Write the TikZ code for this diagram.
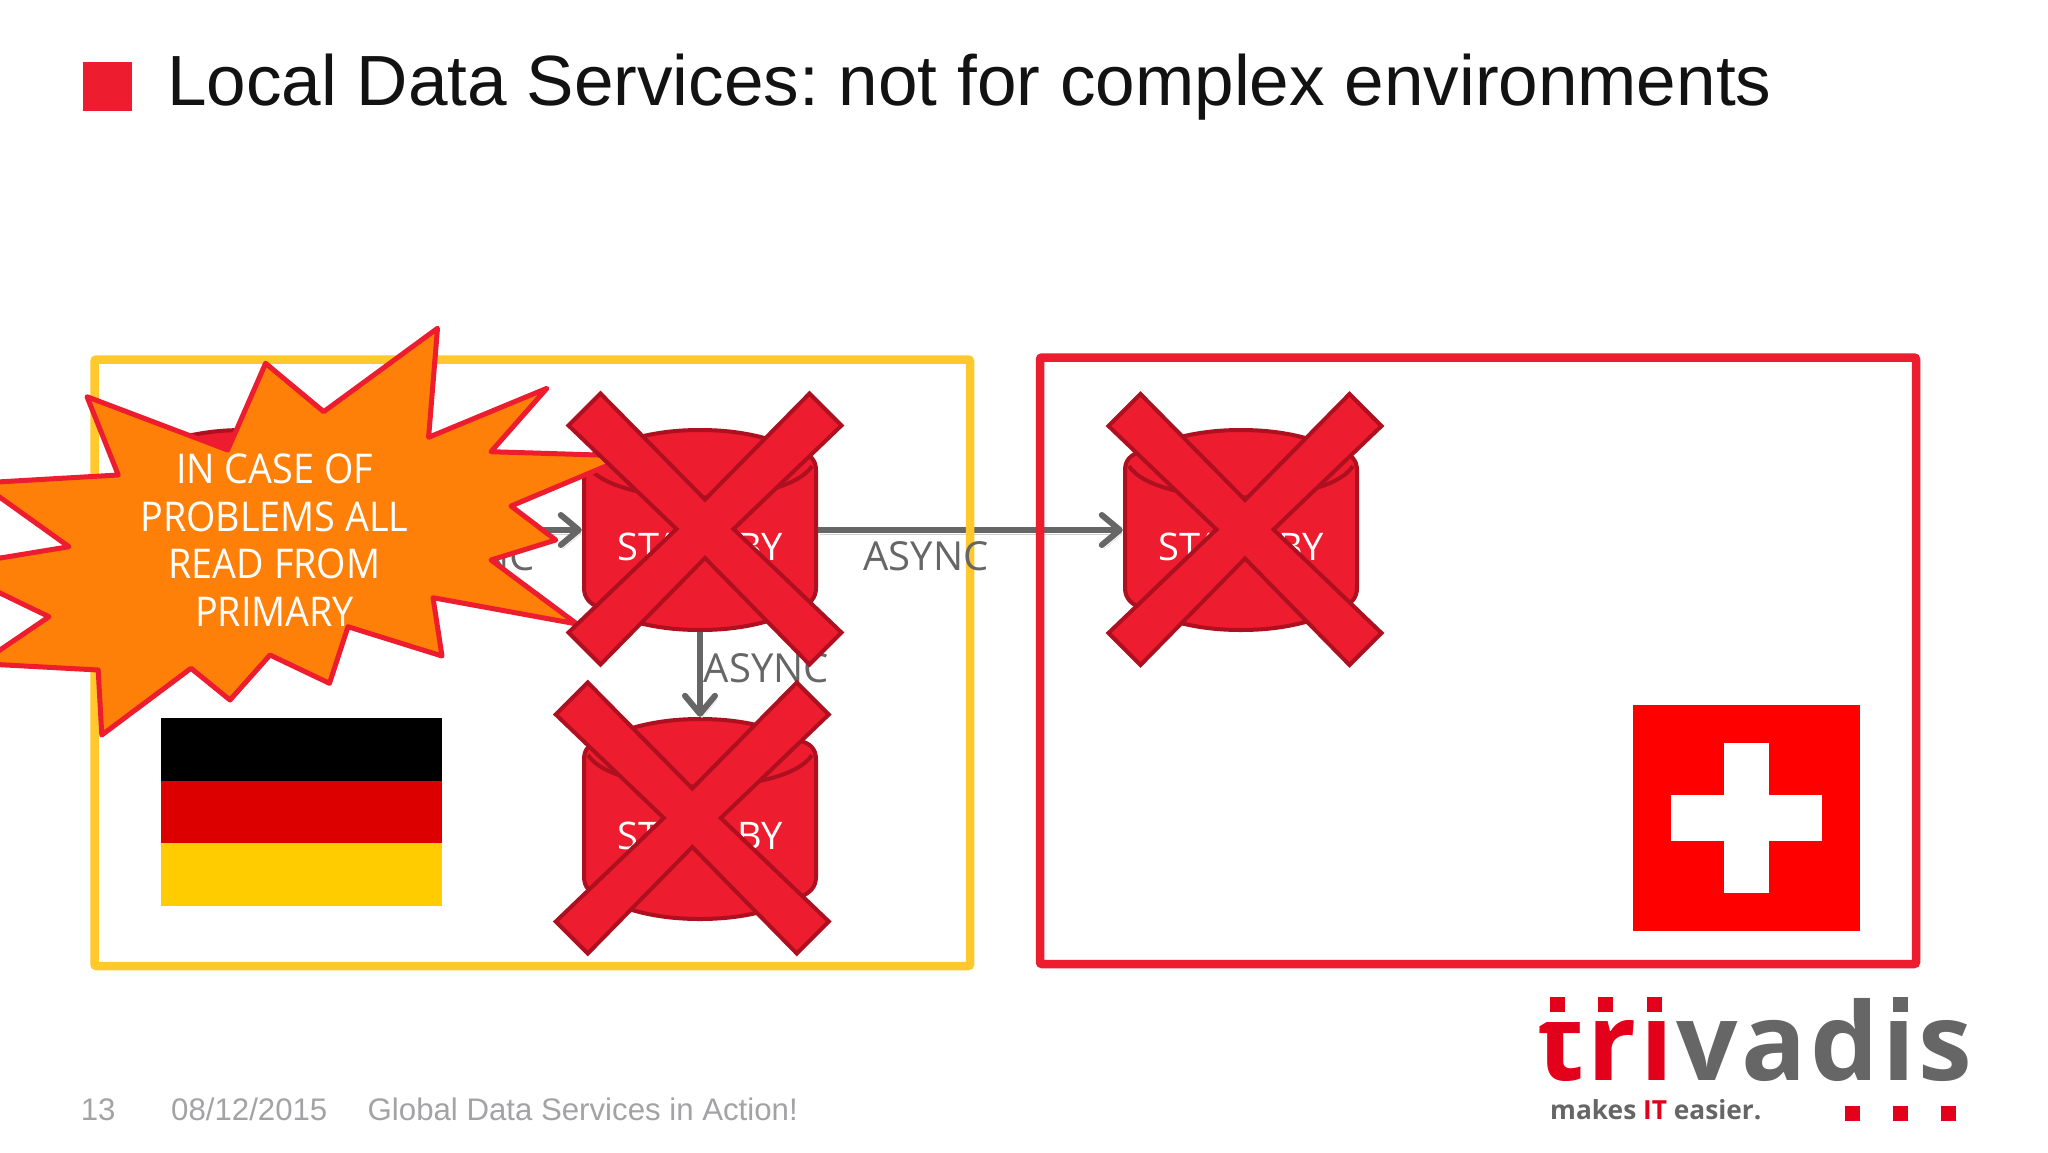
\documentclass[tikz,border=0pt]{standalone}
\usepackage{fontspec}
\usepackage{tikz}
\usetikzlibrary{arrows.meta}
\setmainfont{Open Sans}
\newfontfamily\arialfont{Liberation Sans}
\newfontfamily\logofont[LetterSpace=3.4]{Open Sans}
\newfontfamily\burstfont[FakeStretch=0.92]{Open Sans}
\definecolor{slidered}{HTML}{ED1C2E}
\definecolor{darkred}{HTML}{AE1020}
\definecolor{boxyellow}{HTML}{FFC82C}
\definecolor{burstorange}{HTML}{FF8008}
\definecolor{linegray}{HTML}{666666}
\definecolor{footgray}{HTML}{A3A3A6}
\definecolor{logored}{HTML}{E2001A}
\definecolor{flagred}{HTML}{DD0000}
\definecolor{flaggold}{HTML}{FFCC00}
\tikzset{
  areabox/.style={line width=8.5pt,rounded corners=2pt},
  barrel/.style={fill=slidered,draw=darkred,line width=4pt,line join=round},
  dbnode/.style={minimum width=236pt,minimum height=204pt,inner sep=0pt,text=white,
    font=\fontsize{38}{44}\selectfont},
  syncline/.style={draw=linegray,line width=6pt,-{Straight Barb[length=18pt,width=30pt,round]},
    preaction={draw=black!18,transform canvas={shift={(2pt,-4pt)}}}},
  asynclabel/.style={inner sep=0pt,text=linegray,font=\fontsize{40}{46}\selectfont},
  crossmark/.style={fill=slidered,draw=darkred,line width=4pt,line join=miter},
  burstmark/.style={fill=burstorange,draw=slidered,line width=5pt,line join=round},
  footnote/.style={anchor=base west,inner sep=0pt,text=footgray,
    font=\arialfont\fontsize{31.2}{38}\selectfont},
  logosquare/.style={fill=logored,draw=none,minimum size=15pt,inner sep=0pt},
}
\frenchspacing
\begin{document}
\begin{tikzpicture}[x=1pt,y=-1pt]
\useasboundingbox (0,0) rectangle (2048,1152);
\fill[white] (0,0) rectangle (2048,1152);
% heading
\fill[slidered] (82.7,62.3) rectangle (131.7,111);
\node[anchor=base west,inner sep=0pt,text=black!93,font=\arialfont\fontsize{71.1}{80}\selectfont]
  (heading) at (167,105.3) {Local Data Services: not for complex environments};
% databases
\foreach \name/\cx/\cy/\txt in {primary/244/530/{},standbyA/700/530/STANDBY,
    standbyB/700/819/STANDBY,standbyC/1241/530/STANDBY} {
  \draw[barrel,shift={(\cx,\cy)}] (-116,-60) .. controls (-116,-70) and (-110,-76) .. (-100,-78)
    .. controls (-70,-94) and (-35,-100) .. (0,-100)
    .. controls (35,-100) and (70,-94) .. (100,-78)
    .. controls (110,-76) and (116,-70) .. (116,-60) -- (116,58)
    .. controls (116,68) and (110,74) .. (100,78)
    .. controls (70,94) and (35,100) .. (0,100)
    .. controls (-35,100) and (-70,94) .. (-100,78)
    .. controls (-110,74) and (-116,68) .. (-116,58) -- cycle;
  \draw[barrel,fill=none,shift={(\cx,\cy)}] (-112,-64) .. controls (-85,-22) and (85,-22) .. (112,-64);
  \node[dbnode] (\name) at (\cx,\cy) {\raisebox{-30.5pt}[0pt][0pt]{\txt}};
}
% replication
\draw[syncline] (primary.east) -- (standbyA.west);
\draw[syncline] (standbyA.east) -- (standbyC.west);
\draw[syncline] (standbyA.south) -- (standbyB.north);
% countries
\draw[areabox,draw=boxyellow] (94.5,359.5) rectangle (970,966);
\draw[areabox,draw=slidered] (1040,357.5) rectangle (1916,964);
\fill[black] (160.7,718.3) rectangle (442,780.7);
\fill[flagred] (160.7,780.7) rectangle (442,843.3);
\fill[flaggold] (160.7,843.3) rectangle (442,906);
\fill[red] (1633.3,705) rectangle (1859.7,930.7);
\fill[white] (1724,742.7) rectangle (1769.3,893.3);
\fill[white] (1671,795.3) rectangle (1822,840.7);
\node[asynclabel] (asyncA) at (472,556) {ASYNC};
\node[asynclabel] (asyncB) at (926,556) {ASYNC};
\node[asynclabel] (asyncC) at (766.5,668) {ASYNC};
% burst
\draw[burstmark] (437.5,328.3) -- (428.6,437.3) -- (546.9,388.3) -- (491,451.7) -- (630,456)
  -- (511,506) -- (555.8,540) -- (491,560) -- (577,624) -- (433,597.7) -- (442,656)
  -- (348,626.7) -- (329.5,683.3) -- (270,655) -- (230,700) -- (191,668.3) -- (101.8,735)
  -- (98.2,670) -- (-20,663.6) -- (49,616.7) -- (-30,578.5) -- (-30,563) -- (69,546.7)
  -- (-20,483) -- (118.3,475) -- (87,396.7) -- (227.7,450) -- (265.6,363.3) -- (323.7,411.7) -- cycle;
\node[align=center,inner sep=0pt,text=white,font=\burstfont\fontsize{41}{47.7}\selectfont]
  (warning) at (274.5,540) {IN CASE OF\\PROBLEMS ALL\\READ FROM\\PRIMARY};
% crosses
\foreach \cx/\cy in {705/529,692.3/818,1245/529.5} {
  \draw[crossmark,shift={(\cx,\cy)}] (0,-29.5) -- (104.5,-135.5) -- (136.5,-103.5) -- (28.5,0) -- (136.5,103.5)
    -- (104.5,135.5) -- (0,29) -- (-104.5,135.5) -- (-136.5,103.5) -- (-28.5,0) -- (-136.5,-103.5) -- (-104.5,-135.5) -- cycle;
}
% footer
\node[footnote] (pagenum) at (80.6,1120) {13};
\node[footnote] (footdate) at (171,1120) {08/12/2015};
\node[footnote] (foottitle) at (367.5,1120) {Global Data Services in Action!};
% logo
\node[anchor=base west,inner sep=0pt,text=logored,font=\logofont\bfseries\fontsize{108}{120}\selectfont]
  (logotri) at (1537,1080) {trı};
\fill[white] (1530,985) rectangle (1590,1021.5);
\node[anchor=base west,inner sep=0pt,text=linegray,font=\logofont\bfseries\fontsize{108}{120}\selectfont]
  (logovadis) at (1676,1080) {vadıs};
\foreach \lx/\ly in {1557.7/1004.5,1605.8/1004.5,1654/1004.5,1852.8/1113,1948.8/1113} {
  \node[logosquare] at (\lx,\ly) {};
}
\node[logosquare,fill=linegray] at (1900.5,1004.5) {};
\node[logosquare] at (1900.5,1113) {};
\node[anchor=base west,inner sep=0pt,text=linegray,font=\bfseries\fontsize{26.3}{32}\selectfont]
  (tagline) at (1550,1119) {makes \textcolor{logored}{IT} easier.};
\end{tikzpicture}
\end{document}
